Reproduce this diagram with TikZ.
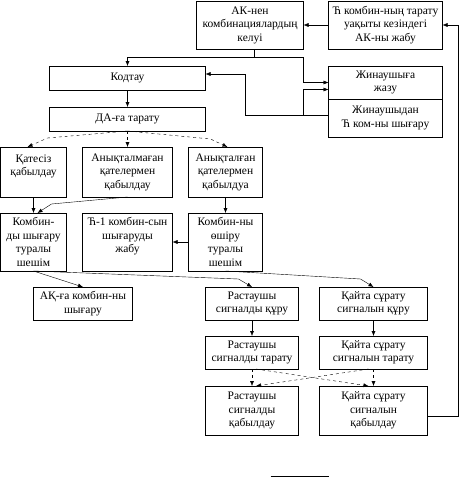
\documentclass[tikz,border=0pt]{standalone}
\usepackage{fontspec}
\setmainfont{Liberation Serif}
\usetikzlibrary{arrows.meta, positioning, calc}

\begin{document}
\begin{tikzpicture}[x=1pt, y=-1pt,
    box/.style={rectangle, draw, thin, outer sep=0pt, inner sep=1pt, align=center, font=\fontsize{11.5}{13.5}\selectfont},
    arrow/.style={-{Latex[length=5pt,width=4pt]}, thin},
    dasharrow/.style={arrow, dashed}
  ]
  \useasboundingbox (-0.5,0) rectangle (460,477);

  % top right
  \node (ak) [box, minimum width=107pt, minimum height=48pt] at (249.5,25) {АК-нен\\ комбинациялардың\\ келуі};
  \node (zhabu) [box, minimum width=114pt, minimum height=48pt, right=25pt of ak] {Ћ комбин-ның тарату\\ уақыты кезіндегі\\ АК-ны жабу};
  \node (zhazu) [box, minimum width=114pt, minimum height=33pt, below=17pt of zhabu] {Жинаушыға\\ жазу};
  \node (shygaru) [box, minimum width=114pt, minimum height=38pt, below=0pt of zhazu] {Жинаушыдан\\ Ћ ком-ны шығару};

  % coding and transmission
  \node (kod) [box, minimum width=156pt, minimum height=24pt] at (127,78) {Кодтау};
  \node (da) [box, minimum width=156pt, minimum height=24pt, below=17pt of kod] {ДА-ға тарату};

  \node (anyqtalmagan) [box, minimum width=90pt, minimum height=50pt, below=16pt of da] {Анықталмаған\\ қателермен\\ қабылдау};
  \node (qatesiz) [box, minimum width=66pt, minimum height=50pt, left=16pt of anyqtalmagan] {Қатесіз\\ қабылдау\\ \mbox{}};
  \node (anyqtalgan) [box, minimum width=74pt, minimum height=50pt, right=16pt of anyqtalmagan] {Анықталған\\ қателермен\\ қабылдуа};

  \node (zhabu1) [box, minimum width=90pt, minimum height=58pt, below=16pt of anyqtalmagan] {Ћ-1 комбин-сын\\ шығаруды\\ жабу\\ \mbox{}};
  \node (kombshy) [box, minimum width=66pt, minimum height=58pt, left=16pt of zhabu1] {Комбин-\\ ды шығару\\ туралы\\ шешім};
  \node (oshiru) [box, minimum width=74pt, minimum height=58pt, right=16pt of zhabu1] {Комбин-ны\\ өшіру\\ туралы\\ шешім};

  % answer signals
  \node (aqqa) [box, minimum width=99pt, minimum height=33pt] at (82.5,303.5) {АҚ-ға комбин-ны\\ шығару};
  \node (rast1) [box, minimum width=93pt, minimum height=33pt] at (251.5,303.5) {Растаушы\\ сигналды құру};
  \node (qaita1) [box, minimum width=108pt, minimum height=33pt, right=21pt of rast1] {Қайта сұрату\\ сигналын құру};
  \node (rast2) [box, minimum width=93pt, minimum height=33pt, below=16pt of rast1] {Растаушы\\ сигналды тарату};
  \node (qaita2) [box, minimum width=108pt, minimum height=33pt, below=16pt of qaita1] {Қайта сұрату\\ сигналын тарату};
  \node (rast3) [box, minimum width=93pt, minimum height=49pt, below=17pt of rast2] {Растаушы\\ сигналды\\ қабылдау};
  \node (qaita3) [box, minimum width=108pt, minimum height=49pt, below=17pt of qaita2] {Қайта сұрату\\ сигналын\\ қабылдау};

  \draw [arrow] (zhabu) -- (ak);
  \draw [arrow] ([yshift=-6pt]qaita3.east) -- ++(31,0) |- (zhabu.east);
  \draw [arrow] ([xshift=4pt]ak.south) -- ++(0,8) -| (kod.north);
  \draw [arrow] ([xshift=4pt]ak.south) -- ++(0,8) -| ([xshift=-25pt]zhazu.west) -- (zhazu.west);
  \draw [arrow] ([yshift=3pt]shygaru.west) -- ++(-83,0) |- ([yshift=4pt]kod.east);
  \draw [arrow] ([yshift=3pt,xshift=-25pt]shygaru.west) |- ([yshift=-7pt]zhazu.west);
  \draw [arrow] (kod) -- (da);

  \draw [dasharrow] (da.south) -- ++(-80,7) -- ([xshift=-6pt]qatesiz.north);
  \draw [dasharrow] (da.south) -- (anyqtalmagan.north);
  \draw [dasharrow] (da.south) -- ++(83,8) -- ([xshift=2pt]anyqtalgan.north);

  \draw [arrow] (qatesiz) -- (kombshy);
  \draw [arrow] (anyqtalmagan.south) -- ++(-76,7) -- ([xshift=4pt]kombshy.north);
  \draw [arrow] (anyqtalgan) -- (oshiru);
  \draw [arrow] (oshiru) -- (zhabu1);

  \draw [arrow] (kombshy.south) -- (aqqa.north);
  \draw [arrow] (kombshy.south) -- ++(205,8) -- (rast1.north);
  \draw [arrow] (oshiru.south) -- ++(135,8) -- (qaita1.north);

  \draw [arrow] (rast1) -- (rast2);
  \draw [arrow] (qaita1) -- (qaita2);
  \draw [dasharrow] (rast2) -- (rast3);
  \draw [dasharrow] (qaita2) -- (qaita3);
  \draw [dasharrow] ([xshift=4pt]rast2.south) -- ([xshift=-5pt]qaita3.north);
  \draw [dasharrow] ([xshift=-5pt]qaita2.south) -- ([xshift=4pt]rast3.north);

  \draw (270,476) -- (328,476);
\end{tikzpicture}
\end{document}
